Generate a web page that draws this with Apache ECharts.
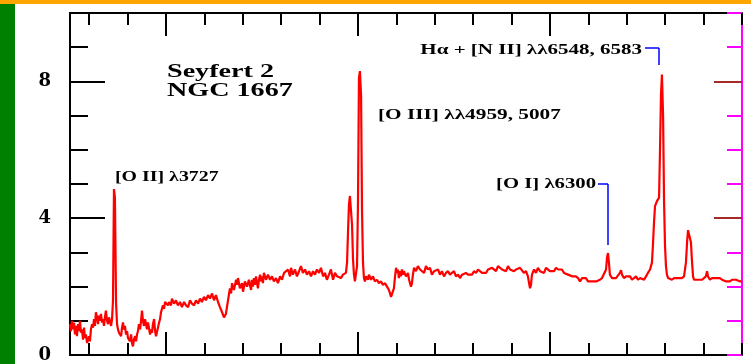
<!DOCTYPE html>
<html><head><meta charset="utf-8">
<script src="https://cdn.jsdelivr.net/npm/echarts@6/dist/echarts.min.js"></script>
<style>html,body{margin:0;padding:0;background:#fff;overflow:hidden}#c{width:751px;height:364px}</style>
</head><body><div id="c"></div>
<script>
const wavelength = [
3500,3505,3510,3516,3521,3526,3531,3536,3542,3547,
3552,3557,3562,3568,3573,3578,3583,3589,3594,3599,
3604,3609,3615,3620,3625,3630,3635,3641,3646,3651,
3656,3661,3667,3672,3677,3682,3687,3693,3698,3703,
3708,3714,3719,3724,3729,3734,3740,3745,3750,3755,
3760,3766,3771,3776,3781,3786,3792,3797,3802,3807,
3812,3818,3823,3828,3833,3839,3844,3849,3854,3859,
3865,3870,3875,3880,3885,3891,3896,3901,3906,3911,
3917,3922,3927,3932,3938,3943,3948,3953,3958,3964,
3969,3974,3979,3984,3990,3995,4000,4005,4010,4016,
4021,4026,4031,4042,4052,4062,4073,4083,4094,4104,
4115,4125,4135,4146,4156,4167,4177,4187,4198,4208,
4219,4229,4240,4250,4260,4271,4281,4292,4302,4307,
4312,4323,4333,4339,4344,4354,4365,4370,4375,4385,
4396,4401,4411,4422,4432,4437,4443,4448,4453,4458,
4463,4469,4474,4479,4484,4490,4495,4500,4505,4510,
4521,4531,4542,4552,4562,4573,4583,4594,4604,4615,
4625,4635,4646,4651,4661,4672,4682,4693,4703,4713,
4724,4734,4745,4755,4766,4776,4786,4797,4807,4818,
4828,4838,4849,4859,4870,4880,4891,4901,4911,4922,
4932,4937,4943,4948,4953,4958,4964,4969,4974,4979,
4984,4990,4995,5000,5005,5010,5016,5021,5026,5031,
5036,5042,5052,5057,5068,5078,5088,5099,5109,5120,
5130,5141,5151,5161,5167,5172,5177,5182,5187,5193,
5198,5203,5208,5213,5219,5224,5229,5234,5239,5250,
5260,5266,5271,5276,5281,5286,5292,5302,5312,5323,
5333,5344,5354,5364,5375,5385,5396,5406,5417,5427,
5437,5448,5458,5469,5479,5489,5500,5510,5521,5531,
5542,5552,5562,5573,5583,5594,5604,5615,5625,5635,
5646,5656,5667,5677,5687,5698,5708,5719,5729,5739,
5750,5760,5771,5781,5792,5802,5812,5823,5833,5844,
5854,5864,5875,5885,5891,5896,5901,5906,5917,5927,
5937,5948,5958,5969,5979,5989,6000,6010,6021,6031,
6042,6052,6062,6073,6083,6094,6104,6115,6125,6135,
6146,6156,6167,6177,6187,6198,6208,6219,6229,6240,
6250,6260,6271,6281,6292,6297,6302,6307,6312,6323,
6333,6344,6354,6364,6370,6375,6385,6396,6406,6417,
6427,6437,6448,6458,6469,6479,6490,6495,6500,6510,
6521,6531,6536,6542,6547,6552,6557,6562,6568,6573,
6578,6583,6589,6594,6599,6604,6609,6615,6625,6635,
6646,6656,6667,6677,6687,6698,6708,6714,6719,6724,
6729,6734,6740,6745,6750,6760,6771,6781,6792,6802,
6812,6818,6823,6833,6844,6854,6865,6875,6885,6896,
6906,6917,6927,6937,6948,6958,6969,6979,6990,7000
];
const flux = [
0.9,0.7,1.0,0.75,0.95,0.6,0.85,0.55,0.9,0.7,
1.0,0.65,0.75,0.45,0.8,0.5,0.6,0.35,0.3,0.55,
0.4,0.75,0.9,0.8,1.05,0.85,1.25,1.1,0.9,1.15,
1.0,1.2,0.95,1.05,0.85,1.1,1.3,1.0,0.9,1.1,
1.0,0.85,1.05,1.6,4.85,4.6,1.5,0.9,0.75,0.65,
0.7,0.55,0.8,0.95,0.75,0.85,0.6,0.7,0.5,0.55,
0.4,0.6,0.35,0.25,0.45,0.55,0.4,0.6,0.7,0.9,
0.75,1.0,1.3,1.0,0.85,1.05,0.9,0.75,0.95,0.8,
0.6,0.75,0.65,0.9,1.05,0.7,0.55,0.6,0.8,0.95,
1.05,1.25,1.3,1.45,1.35,1.55,1.5,1.6,1.45,1.55,
1.6,1.45,1.65,1.5,1.6,1.45,1.55,1.4,1.55,1.45,
1.4,1.6,1.5,1.45,1.6,1.5,1.65,1.55,1.7,1.6,
1.75,1.65,1.8,1.6,1.75,1.55,1.4,1.25,1.1,1.05,
1.2,1.6,1.95,1.8,2.1,1.9,2.2,2.05,2.25,1.95,
2.1,1.85,2.15,2.0,2.2,2.05,1.9,2.2,2.0,2.25,
2.05,2.3,2.1,1.95,2.2,2.35,2.15,2.3,2.1,2.4,
2.2,2.35,2.2,2.3,2.15,2.25,2.1,2.3,2.2,2.4,
2.35,2.5,2.3,2.55,2.35,2.5,2.3,2.45,2.6,2.4,
2.5,2.35,2.45,2.3,2.45,2.35,2.5,2.4,2.55,2.3,
2.4,2.2,2.35,2.5,2.2,2.4,2.3,2.35,2.25,2.35,
2.3,2.4,2.7,3.6,4.4,4.65,4.6,3.8,2.8,2.35,
2.15,2.2,2.6,4.5,8.1,8.3,7.6,4.2,2.7,2.25,
2.15,2.3,2.2,2.35,2.2,2.3,2.15,2.2,2.1,2.15,
2.05,2.1,2.0,1.9,1.8,1.7,1.65,1.75,1.95,2.3,
2.55,2.4,2.5,2.25,2.45,2.3,2.5,2.35,2.45,2.3,
2.4,2.2,2.1,2.0,2.1,2.35,2.55,2.45,2.6,2.5,
2.55,2.4,2.6,2.5,2.55,2.35,2.45,2.4,2.5,2.35,
2.45,2.3,2.4,2.45,2.35,2.4,2.45,2.3,2.35,2.25,
2.35,2.3,2.4,2.35,2.4,2.35,2.45,2.4,2.5,2.45,
2.4,2.45,2.4,2.5,2.45,2.55,2.5,2.45,2.6,2.55,
2.5,2.55,2.45,2.6,2.5,2.55,2.45,2.5,2.45,2.55,
2.5,2.4,2.45,2.3,2.1,1.95,2.05,2.35,2.5,2.4,
2.55,2.45,2.5,2.4,2.55,2.5,2.45,2.5,2.45,2.55,
2.5,2.45,2.5,2.4,2.45,2.35,2.4,2.3,2.35,2.3,
2.25,2.15,2.25,2.2,2.25,2.15,2.2,2.15,2.1,2.15,
2.1,2.2,2.25,2.3,2.5,2.85,2.98,2.7,2.35,2.25,
2.3,2.25,2.3,2.4,2.48,2.35,2.25,2.3,2.25,2.3,
2.2,2.25,2.3,2.2,2.25,2.3,2.2,2.15,2.3,2.4,
2.5,2.7,3.2,3.9,4.35,4.4,4.5,4.45,4.6,6.0,
7.6,8.2,7.0,4.5,3.2,2.6,2.35,2.25,2.3,2.2,
2.25,2.2,2.25,2.2,2.25,2.3,2.7,3.3,3.65,3.7,
3.65,3.3,2.7,2.3,2.2,2.15,2.2,2.15,2.2,2.25,
2.3,2.45,2.3,2.2,2.25,2.2,2.25,2.2,2.25,2.2,
2.2,2.15,2.2,2.15,2.2,2.15,2.2,2.15,2.15,2.15
];
const xMinorTicks = [3600,3800,4000,4200,4400,4600,4800,5000,5200,5400,5600,5800,6000,6200,6400,6600,6800,7000];
const xMajorTicks = [4000,5000,6000];
const yLabelValues = [0,4,8];
const yMajorTicks = [4,8];
const leaderSegments = [
  [6495,8.98,6568,8.98],[6568,8.98,6568,8.48],
  [6250,5.0,6302,5.0],[6302,5.0,6302,3.22]
];
const titleLines = ['Seyfert 2','NGC 1667'];
const lineLabels = ['[O II] λ3727','[O III] λλ4959, 5007','Hα + [N II] λλ6548, 6583','[O I] λ6300'];

const chart = echarts.init(document.getElementById('c'));
function xAx(pos, lineShow, len, vals, col){
  return {type:'value',min:3500,max:7000,position:pos,splitLine:{show:false},
    axisLabel:{show:false},
    axisLine:{show:lineShow,onZero:false,lineStyle:{color:col,width:2}},
    axisTick:{show:true,inside:true,length:len,lineStyle:{color:col,width:2},customValues:vals}};
}
function yAx(pos, lineShow, len, vals, labels, col){
  const ax = {type:'value',min:0,max:10,interval:1,position:pos,splitLine:{show:false},
    axisLine:{show:lineShow,onZero:false,lineStyle:{color:col,width:2}},
    axisTick:{show:true,inside:true,length:len,lineStyle:{color:col,width:2}},
    axisLabel:{show:false}};
  if (vals) ax.axisTick.customValues = vals;
  if (labels) ax.axisLabel = {show:true,margin:19,color:col,fontFamily:'DejaVu Serif',fontWeight:'bold',fontSize:18,
    formatter:v=>labels.indexOf(v)>=0?String(v):''};
  return ax;
}
const sLabel = {font:'bold 14px "Liberation Serif"',fill:'#000',verticalAlign:'middle'};
const tLabel = {font:'bold 19px "Liberation Serif"',fill:'#000',verticalAlign:'middle'};
chart.setOption({
  animation:false,
  backgroundColor:'#fff',
  grid:{left:70,right:9,top:13,bottom:9,containLabel:false},
  xAxis:[xAx('bottom',true,12,xMinorTicks,'#000'),xAx('bottom',false,23,xMajorTicks,'#000'),
         xAx('top',true,12,xMinorTicks,'#000'),xAx('top',false,23,xMajorTicks,'#000')],
  yAxis:[yAx('left',true,18,null,yLabelValues,'#000'),yAx('left',false,35,yMajorTicks,null,'#000'),
         yAx('right',true,15,null,null,'magenta'),yAx('right',false,28,yMajorTicks,null,'brown')],
  series:[{type:'line',xAxisIndex:0,yAxisIndex:0,symbol:'none',
    data:wavelength.map((w,i)=>[w,flux[i]]),
    lineStyle:{color:'red',width:2.2},
    markLine:{silent:true,symbol:['none','none'],label:{show:false},
      lineStyle:{color:'blue',width:1.5,type:'solid'},emphasis:{disabled:true},
      data:leaderSegments.map(s=>[{coord:[s[0],s[1]]},{coord:[s[2],s[3]]}])}
  }],
  graphic:[
    {type:'rect',shape:{x:0,y:0,width:15,height:364},style:{fill:'green'},silent:true},
    {type:'rect',shape:{x:0,y:0,width:751,height:4},style:{fill:'orange'},silent:true},
    {type:'text',x:167,y:72,scaleX:1.48,style:Object.assign({text:titleLines[0],align:'left'},tLabel)},
    {type:'text',x:167,y:91,scaleX:1.48,style:Object.assign({text:titleLines[1],align:'left'},tLabel)},
    {type:'text',x:115,y:177,scaleX:1.42,style:Object.assign({text:lineLabels[0],align:'left'},sLabel)},
    {type:'text',x:378,y:115,scaleX:1.52,style:Object.assign({text:lineLabels[1],align:'left'},sLabel)},
    {type:'text',x:642,y:50,scaleX:1.5,style:Object.assign({text:lineLabels[2],align:'right'},sLabel)},
    {type:'text',x:596,y:184,scaleX:1.48,style:Object.assign({text:lineLabels[3],align:'right'},sLabel)}
  ]
});
</script></body></html>
